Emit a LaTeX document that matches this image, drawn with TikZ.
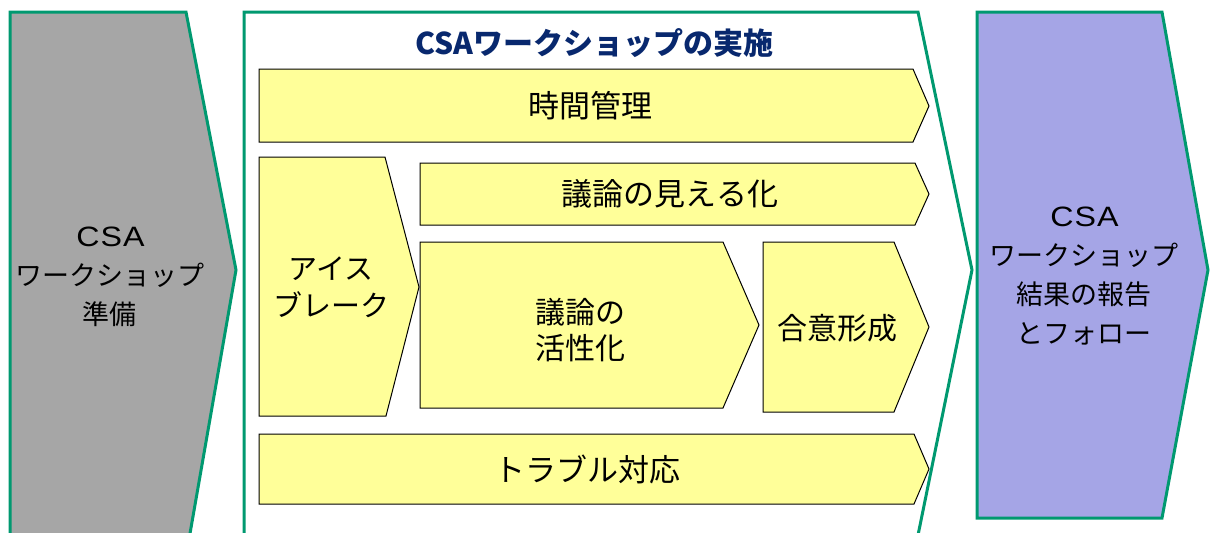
\documentclass[tikz,border=0pt]{standalone}
\usepackage{fontspec}
\setmainfont{Noto Sans CJK JP}
\newfontfamily\latinfont{Liberation Sans}[FakeStretch=1.15, LetterSpace=4]
\definecolor{frameGreen}{RGB}{0,153,112}
\definecolor{prepGray}{RGB}{166,166,166}
\definecolor{followPurple}{RGB}{165,165,230}
\definecolor{stepYellow}{RGB}{255,255,153}
\definecolor{titleBlue}{RGB}{8,40,110}
\tikzset{
  phase/.style={draw=frameGreen, line width=3pt, line join=miter},
  stepbox/.style={draw=black, fill=stepYellow, line width=1pt, line join=miter},
  steptext/.style={align=center, text=black, inner sep=0pt},
}
\begin{document}
\begin{tikzpicture}[x=1pt,y=-1pt]
\useasboundingbox (0,0) rectangle (1211,533);
\clip (0,0) rectangle (1211,533);
% phases
\draw[phase, fill=prepGray] (10,12) -- (186,12) -- (236,270) -- (188,545) -- (10,545) -- cycle;
\draw[phase, fill=white] (244,12) -- (918,12) -- (972,270) -- (916,545) -- (244,545) -- cycle;
\draw[phase, fill=followPurple] (977,12) -- (1162,12) -- (1208,270) -- (1162,518) -- (977,518) -- cycle;
% phase texts
\node[steptext, font=\fontsize{27}{39}\selectfont] (prep) at (110,277) {{\latinfont\fontsize{28}{39}\selectfont CSA\kern-1pt}\\ワークショップ\\準備};
\node[steptext, font=\fontsize{27}{39}\selectfont] (follow) at (1084,276) {{\latinfont\fontsize{28}{39}\selectfont CSA\kern-1pt}\\ワークショップ\\結果の報告\\とフォロー};
\node[steptext, font=\fontsize{30}{36}\bfseries\selectfont, text=titleBlue] (title) at (594,43) {CSAワークショップの実施};
% yellow steps
\draw[stepbox] (259,69) -- (913,69) -- (929,106) -- (913,142) -- (259,142) -- cycle;
\node[steptext, font=\fontsize{31}{36}\selectfont] (time) at (590,106) {時間管理};
\draw[stepbox] (259,157) -- (385,157) -- (419,287) -- (386,416) -- (259,416) -- cycle;
\node[steptext, font=\fontsize{29}{37}\selectfont] (ice) at (331,287) {アイス\\ブレーク};
\draw[stepbox] (420,163) -- (915,163) -- (929,194) -- (915,225) -- (420,225) -- cycle;
\node[steptext, font=\fontsize{31}{36}\selectfont] (visual) at (670,194) {議論の見える化};
\draw[stepbox] (420,242) -- (723,242) -- (759,325) -- (723,408) -- (420,408) -- cycle;
\node[steptext, font=\fontsize{30}{36}\selectfont] (active) at (580,330) {議論の\\活性化};
\draw[stepbox] (763,242) -- (894,242) -- (929,327) -- (894,412) -- (763,412) -- cycle;
\node[steptext, font=\fontsize{30}{36}\selectfont] (consensus) at (837,328) {合意形成};
\draw[stepbox] (259,434) -- (914,434) -- (929,469) -- (914,504) -- (259,504) -- cycle;
\node[steptext, font=\fontsize{31}{36}\selectfont] (trouble) at (587,469) {トラブル対応};
\end{tikzpicture}
\end{document}
